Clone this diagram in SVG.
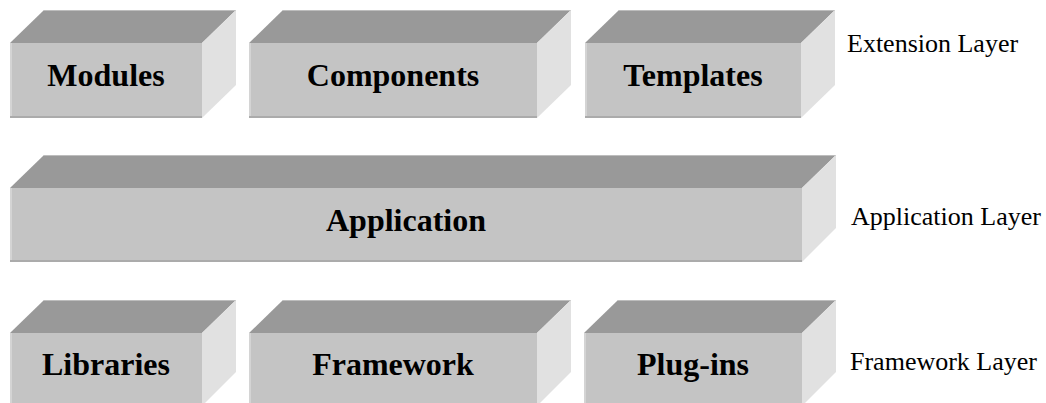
<svg xmlns="http://www.w3.org/2000/svg" width="1046" height="403" viewBox="0 0 1046 403">
<style>
.top{fill:#999999}
.topedge{stroke:#bdbdbd;stroke-width:1}
.side{fill:#e1e1e1}
.front{fill:#c4c4c4}
.lstrip{fill:#d4d4d4}
.bstrip{fill:#ababab}
.lbl{font-family:"Liberation Serif","Times New Roman",serif;font-weight:bold;font-size:32px;fill:#000;text-anchor:middle}
.layer{font-family:"Liberation Serif","Times New Roman",serif;font-size:26px;fill:#000}
</style>
<rect width="1046" height="403" fill="#ffffff"/>

<g id="modules">
<polygon class="top" points="10,43 44,10 236,10 202,43"/>
<line class="topedge" x1="44" y1="10.5" x2="236" y2="10.5"/>
<polygon class="side" points="202,43 236,10 236,85 202,118"/>
<rect class="front" x="10" y="43" width="192" height="75"/>
<rect class="lstrip" x="10" y="43" width="2" height="75"/>
<rect class="bstrip" x="10" y="116" width="192" height="2"/>
<text class="lbl" x="106" y="86">Modules</text>
</g>

<g id="components">
<polygon class="top" points="249,43 283,10 571,10 537,43"/>
<line class="topedge" x1="283" y1="10.5" x2="571" y2="10.5"/>
<polygon class="side" points="537,43 571,10 571,85 537,118"/>
<rect class="front" x="249" y="43" width="288" height="75"/>
<rect class="lstrip" x="249" y="43" width="2" height="75"/>
<rect class="bstrip" x="249" y="116" width="288" height="2"/>
<text class="lbl" x="393" y="86">Components</text>
</g>

<g id="templates">
<polygon class="top" points="585,43 619,10 835,10 801,43"/>
<line class="topedge" x1="619" y1="10.5" x2="835" y2="10.5"/>
<polygon class="side" points="801,43 835,10 835,85 801,118"/>
<rect class="front" x="585" y="43" width="216" height="75"/>
<rect class="lstrip" x="585" y="43" width="2" height="75"/>
<rect class="bstrip" x="585" y="116" width="216" height="2"/>
<text class="lbl" x="693" y="86">Templates</text>
</g>

<g id="application">
<polygon class="top" points="10,188 44,155 836,155 802,188"/>
<line class="topedge" x1="44" y1="155.5" x2="836" y2="155.5"/>
<polygon class="side" points="802,188 836,155 836,228 802,262"/>
<rect class="front" x="10" y="188" width="792" height="74"/>
<rect class="lstrip" x="10" y="188" width="2" height="74"/>
<rect class="bstrip" x="10" y="260" width="792" height="2"/>
<text class="lbl" x="406" y="231">Application</text>
</g>

<g id="libraries">
<polygon class="top" points="10,333 44,300 236,300 202,333"/>
<line class="topedge" x1="44" y1="300.5" x2="236" y2="300.5"/>
<polygon class="side" points="202,333 236,300 236,372 202,406"/>
<rect class="front" x="10" y="333" width="192" height="75"/>
<rect class="lstrip" x="10" y="333" width="2" height="75"/>
<text class="lbl" x="106" y="375">Libraries</text>
</g>

<g id="framework">
<polygon class="top" points="249,333 283,300 571,300 537,333"/>
<line class="topedge" x1="283" y1="300.5" x2="571" y2="300.5"/>
<polygon class="side" points="537,333 571,300 571,372 537,406"/>
<rect class="front" x="249" y="333" width="288" height="75"/>
<rect class="lstrip" x="249" y="333" width="2" height="75"/>
<text class="lbl" x="393" y="375">Framework</text>
</g>

<g id="plugins">
<polygon class="top" points="584,333 618,300 836,300 802,333"/>
<line class="topedge" x1="618" y1="300.5" x2="836" y2="300.5"/>
<polygon class="side" points="802,333 836,300 836,372 802,406"/>
<rect class="front" x="584" y="333" width="218" height="75"/>
<rect class="lstrip" x="584" y="333" width="2" height="75"/>
<text class="lbl" x="693" y="375">Plug-ins</text>
</g>

<g id="layer-labels">
<text class="layer" x="847" y="52">Extension Layer</text>
<text class="layer" x="851" y="225">Application Layer</text>
<text class="layer" x="850" y="370">Framework Layer</text>
</g>

<g id="connectors"></g>
</svg>
